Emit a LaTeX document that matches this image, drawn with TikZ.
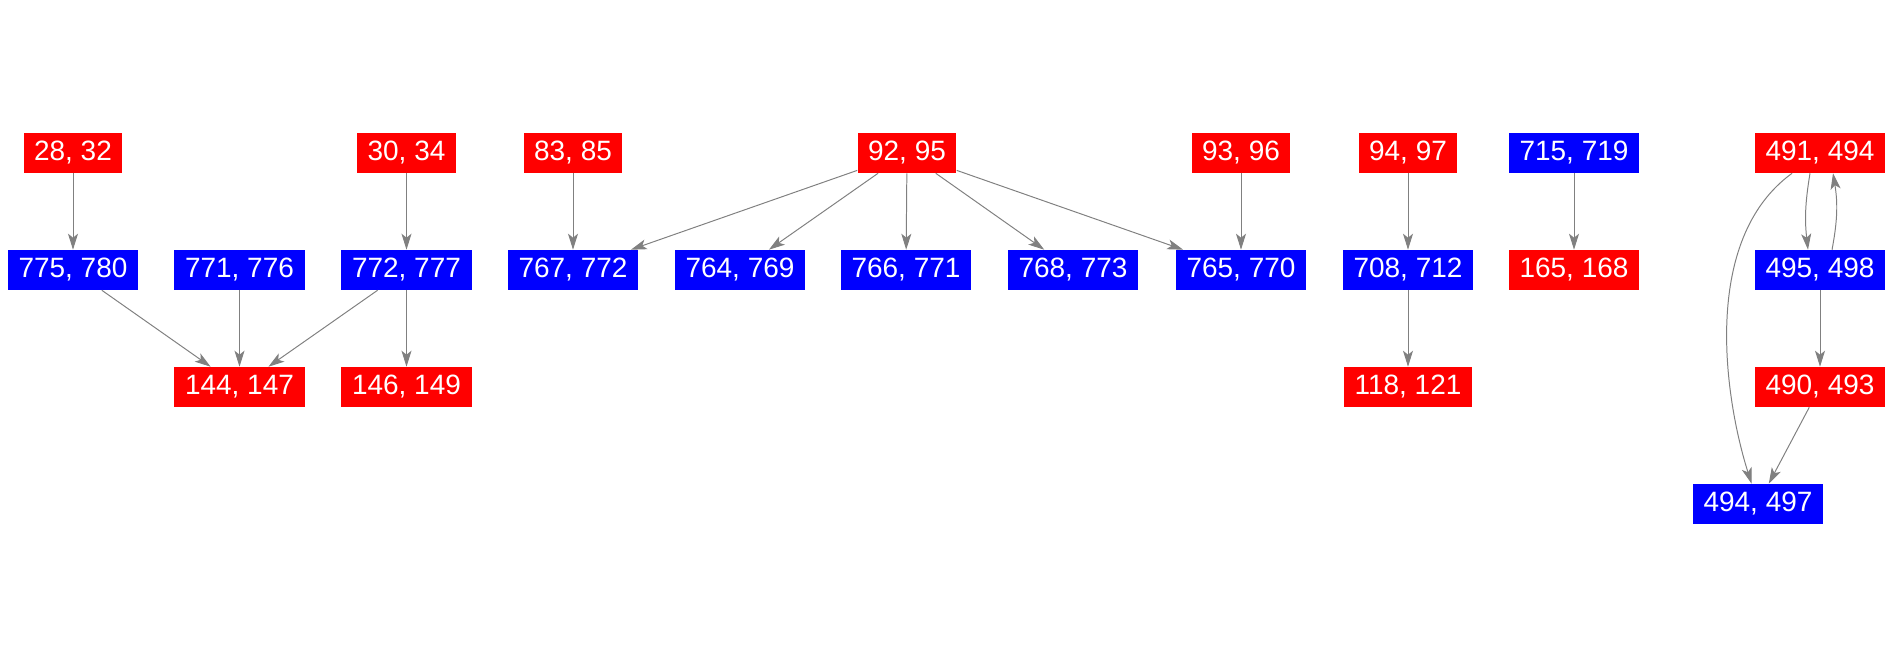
\documentclass[tikz,border=0pt]{standalone}
\usepackage{fontspec}
\setmainfont{Liberation Sans}
\usetikzlibrary{arrows.meta}

\begin{document}
\begin{tikzpicture}[x=0.025cm, y=-0.025cm,
    redbox/.style={fill=red, text=white, inner xsep=7.5pt, inner ysep=0pt, minimum height=1cm, font=\fontsize{19.9}{24}\selectfont},
    bluebox/.style={redbox, fill=blue},
    edge/.style={draw=gray, line width=0.7pt, -{Stealth[length=0.4cm, width=0.25cm, inset=0.1cm]}}]
    \useasboundingbox (0,0) rectangle (1892,656);
    % top row
    \node[redbox] (n2832) at (73,153) {28, 32};
    \node[redbox] (n3034) at (406.5,153) {30, 34};
    \node[redbox] (n8385) at (573,153) {83, 85};
    \node[redbox] (n9295) at (907,153) {92, 95};
    \node[redbox] (n9396) at (1241,153) {93, 96};
    \node[redbox] (n9497) at (1408,153) {94, 97};
    \node[bluebox] (n715719) at (1574,153) {715, 719};
    \node[redbox] (n491494) at (1820,153) {491, 494};
    % second row
    \node[bluebox] (n775780) at (73,270) {775, 780};
    \node[bluebox] (n771776) at (239.5,270) {771, 776};
    \node[bluebox] (n772777) at (406.5,270) {772, 777};
    \node[bluebox] (n767772) at (573,270) {767, 772};
    \node[bluebox] (n764769) at (740,270) {764, 769};
    \node[bluebox] (n766771) at (906,270) {766, 771};
    \node[bluebox] (n768773) at (1073,270) {768, 773};
    \node[bluebox] (n765770) at (1241,270) {765, 770};
    \node[bluebox] (n708712) at (1408,270) {708, 712};
    \node[redbox] (n165168) at (1574,270) {165, 168};
    \node[bluebox] (n495498) at (1820,270) {495, 498};
    % third and fourth row
    \node[redbox] (n144147) at (239.5,387) {144, 147};
    \node[redbox] (n146149) at (406.5,387) {146, 149};
    \node[redbox] (n118121) at (1408,387) {118, 121};
    \node[redbox] (n490493) at (1820,387) {490, 493};
    \node[bluebox] (n494497) at (1758,504) {494, 497};
    % edges
    \draw[edge] (n2832) -- (n775780);
    \draw[edge] (n3034) -- (n772777);
    \draw[edge] (n775780) -- (n144147);
    \draw[edge] (n771776) -- (n144147);
    \draw[edge] (n772777) -- (n144147);
    \draw[edge] (n772777) -- (n146149);
    \draw[edge] (n8385) -- (n767772);
    \foreach \t in {n767772,n764769,n766771,n768773,n765770}
        \draw[edge] (n9295) -- (\t);
    \draw[edge] (n9396) -- (n765770);
    \draw[edge] (n9497) -- (n708712);
    \draw[edge] (n708712) -- (n118121);
    \draw[edge] (n715719) -- (n165168);
    \draw[edge] ([xshift=-0.25cm]n491494.south) to[bend right=8] ([xshift=-0.3cm]n495498.north);
    \draw[edge] ([xshift=0.3cm]n495498.north) to[bend right=10] ([xshift=0.325cm]n491494.south);
    \draw[edge] (n495498) -- (n490493);
    \draw[edge] (n490493) -- (n494497);
    \draw[edge] (n491494) .. controls (1700,240) and (1725,400) .. (n494497);
\end{tikzpicture}
\end{document}
